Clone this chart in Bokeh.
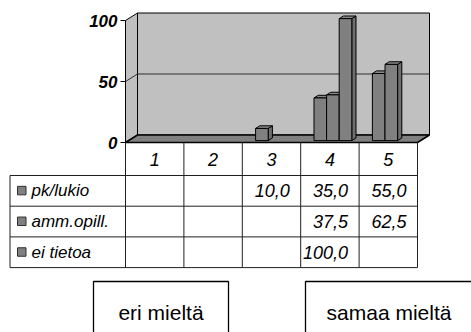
from bokeh.plotting import figure
from bokeh.models import Range1d
from bokeh.core.properties import value
from bokeh.embed import file_html
from bokeh.resources import INLINE

# ---------------- data ----------------
categories = ["1", "2", "3", "4", "5"]
series_names = ["pk/lukio", "amm.opill.", "ei tietoa"]
pk_lukio = [None, None, 10.0, 35.0, 55.0]
amm_opill = [None, None, None, 37.5, 62.5]
ei_tietoa = [None, None, None, 100.0, None]
y_ticks = [0, 50, 100]
y_max = 100
box_labels = ["eri mieltä", "samaa mieltä"]

series_values = [pk_lukio, amm_opill, ei_tietoa]

# ---------------- geometry (styles) ----------------
W, H = 471, 332
OFF = 0
X0_PX, CAT_PX = 125.0, 58.4      # front-plane left edge, px per category
Y0_PX, KY = 142.0, 1.22          # front-plane zero, px per value unit
FONT = "Liberation Sans"


def px_x(px):
    return 0.5 + (px - X0_PX) / CAT_PX


def px_y(py):
    return (Y0_PX - py) / KY


DX = 12.0 / CAT_PX
DY = 7.5 / KY
T0, T1 = 0.25, 0.60
BW = 12.6 / CAT_PX
n_cat = len(categories)
XL, XR = 0.5, n_cat + 0.5

p = figure(width=W, height=H, output_backend="svg", toolbar_location=None,
           x_range=Range1d(px_x(OFF), px_x(OFF + W)),
           y_range=Range1d(px_y(OFF + H), px_y(OFF)),
           min_border=0, outline_line_color=None)
p.axis.visible = False
p.grid.visible = False
p.background_fill_color = "white"
p.border_fill_color = "white"

# ---- walls and floor ----
wall_xs = [[XL + DX, XR + DX, XR + DX, XL + DX],
           [XL, XL + DX, XL + DX, XL]]
wall_ys = [[DY, DY, y_max + DY, y_max + DY],
           [0, DY, y_max + DY, y_max]]
p.patches(wall_xs, wall_ys, fill_color="#C0C0C0", line_color="black", line_width=1)

# gridlines
for t in y_ticks[1:-1]:
    p.line([XL, XL + DX, XR + DX], [t, t + DY, t + DY], line_color="#303030", line_width=1)

p.patch([XL, XR, XR + DX, XL + DX], [0, 0, DY, DY], fill_color="#808080",
        line_color="black", line_width=1.5)

# axis ticks and labels
for t in y_ticks:
    p.line([px_x(X0_PX - 5), XL], [t, t], line_color="black", line_width=1)
p.text(x=[px_x(X0_PX - 8)] * len(y_ticks), y=y_ticks, text=[str(t) for t in y_ticks],
       text_font=value(FONT), text_font_size="17px", text_font_style="bold italic",
       text_align="right", text_baseline="middle", text_color="black")

# ---- 3D bars ----
bxs, bys, bcol = [], [], []
base = T0 * DY
ddx, ddy = (T1 - T0) * DX, (T1 - T0) * DY
for ci in range(n_cat):
    for si, vals in enumerate(series_values):
        v = vals[ci]
        if v is None:
            continue
        c = (ci + 1) + T0 * DX + (si - 1) * BW
        L, R = c - BW / 2, c + BW / 2
        top = base + v
        bxs += [[R, R + ddx, R + ddx, R], [L, R, R + ddx, L + ddx], [L, R, R, L]]
        bys += [[base, base + ddy, top + ddy, top], [top, top, top + ddy, top + ddy],
                [base, base, top, top]]
        bcol += ["#6e6e6e", "#8a8a8a", "#808080"]
p.patches(bxs, bys, fill_color=bcol, line_color="black", line_width=1)

# ---- data table ----
HEAD_PX = 33.0
ROW_PX = 30.7
TL_PX = 9.5
row_lines_px = [Y0_PX + HEAD_PX + k * ROW_PX for k in range(len(series_names) + 1)]
bottom_y = px_y(row_lines_px[-1])
for ry in row_lines_px:
    p.line([px_x(TL_PX), XR], [px_y(ry), px_y(ry)], line_color="#202020", line_width=1)
for k in range(n_cat + 1):
    xv = XL + k
    p.line([xv, xv], [0, bottom_y], line_color="#202020", line_width=1)
p.line([px_x(TL_PX), px_x(TL_PX)], [px_y(row_lines_px[0]), bottom_y],
       line_color="#202020", line_width=1)

# header labels
p.text(x=list(range(1, n_cat + 1)), y=[px_y(Y0_PX + HEAD_PX / 2)] * n_cat, text=categories,
       text_font=value(FONT), text_font_size="18px", text_font_style="italic",
       text_align="center", text_baseline="middle", text_color="black")

# legend keys + labels
row_c_px = [row_lines_px[k] + ROW_PX / 2 for k in range(len(series_names))]
p.quad(left=[px_x(17)] * 3, right=[px_x(25.5)] * 3,
       bottom=[px_y(c + 4) for c in row_c_px], top=[px_y(c - 4.5) for c in row_c_px],
       fill_color="#808080", line_color="#303030", line_width=1)
p.text(x=[px_x(31)] * 3, y=[px_y(c) for c in row_c_px], text=series_names,
       text_font=value(FONT), text_font_size="17px", text_font_style="italic",
       text_align="left", text_baseline="middle", text_color="black")

# cell values
tx, ty, tt = [], [], []
for si, vals in enumerate(series_values):
    for ci, v in enumerate(vals):
        if v is None:
            continue
        tx.append(ci + 1.5)
        ty.append(px_y(row_c_px[si]))
        tt.append(f"{v:.1f}".replace(".", ","))
p.text(x=tx, y=ty, text=tt, x_offset=-11,
       text_font=value(FONT), text_font_size="18px", text_font_style="italic",
       text_align="right", text_baseline="middle", text_color="black")

# ---- bottom boxes ----
box_left_px = [93, 305]
box_right_px = [228, 472]
p.quad(left=[px_x(v) for v in box_left_px], right=[px_x(v) for v in box_right_px],
       top=[px_y(281)] * 2, bottom=[px_y(345)] * 2,
       fill_color=None, line_color="black", line_width=1.3)
p.text(x=[px_x((a + b) / 2) for a, b in zip(box_left_px, box_right_px)],
       y=[px_y(312)] * 2, text=box_labels,
       text_font=value(FONT), text_font_size="21px",
       text_align="center", text_baseline="alphabetic", text_color="black")

open("out.html", "w").write(file_html(p, INLINE))
